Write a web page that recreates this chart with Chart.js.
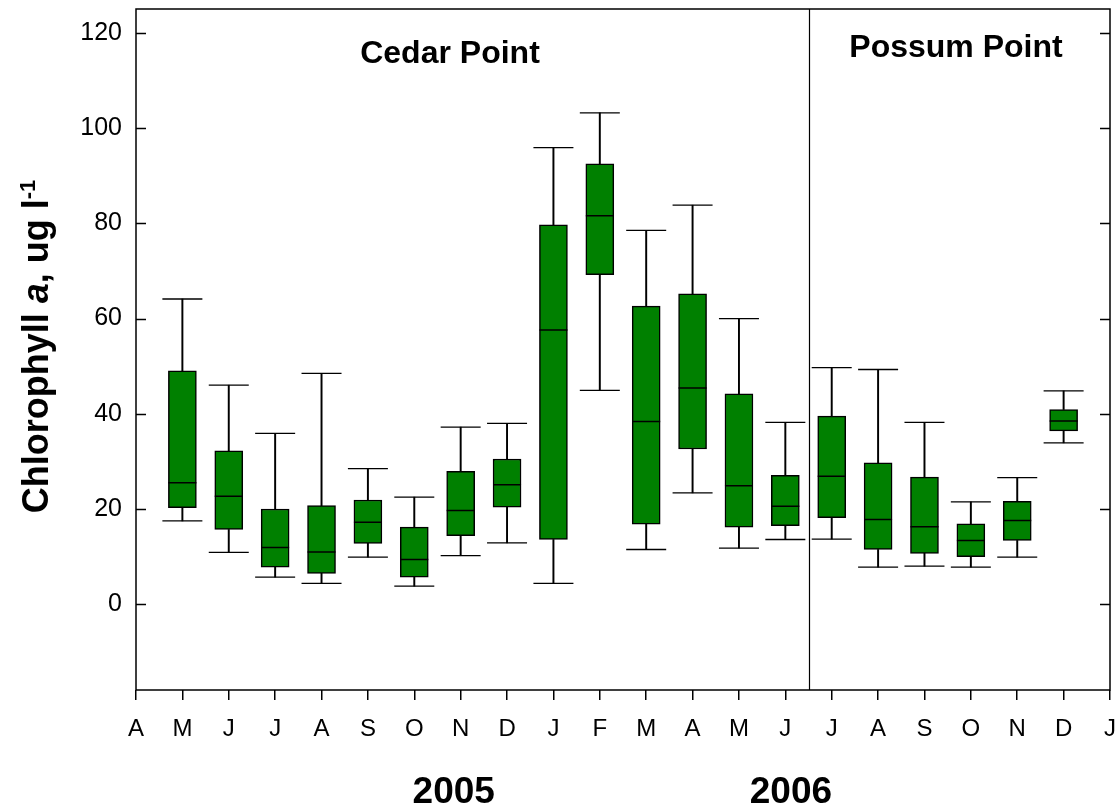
<!DOCTYPE html>
<html>
<head>
<meta charset="utf-8">
<script src="https://cdn.jsdelivr.net/npm/chart.js@4/dist/chart.umd.min.js"></script>
<style>
  body { margin: 0; background: #fff; }
  #wrap { width: 1118px; height: 811px; position: relative; }
</style>
</head>
<body>
<div id="wrap"><canvas id="chart"></canvas></div>
<script>
// month ticks, Apr 2005 .. Jul 2006
const months = ['A','M','J','J','A','S','O','N','D','J','F','M','A','M','J','J','A','S','O','N','D','J']
const yTicks = [0, 20, 40, 60, 80, 100, 120]

// box plot values (null = no sample that month)
const whiskerHigh = [null, 64.1, 46.0, 35.9, 48.5, 28.5, 22.5, 37.2, 38.0, 95.9, 103.2, 78.5, 83.8, 60.0, 38.2, 49.7, 49.3, 38.2, 21.5, 26.6, 44.8, null]
const q3          = [null, 49.0, 32.2, 20.0, 20.7, 21.9, 16.2, 27.9, 30.5, 79.7, 92.5, 62.6, 65.2, 44.2, 27.1, 39.5, 29.7, 26.7, 16.9, 21.6, 40.9, null]
const median      = [null, 25.5, 22.7, 11.9, 11.0, 17.2,  9.4, 19.7, 25.1, 57.6, 81.6, 38.4, 45.4, 24.9, 20.6, 26.9, 17.8, 16.3, 13.4, 17.6, 38.5, null]
const q1          = [null, 20.3, 15.7,  7.8,  6.5, 12.8,  5.7, 14.4, 20.4, 13.6, 69.2, 16.8, 32.6, 16.2, 16.5, 18.2, 11.5, 10.7, 10.0, 13.4, 36.4, null]
const whiskerLow  = [null, 17.5, 10.9,  5.7,  4.4,  9.9,  3.8, 10.2, 12.9,  4.4, 44.9, 11.5, 23.4, 11.8, 13.6, 13.7,  7.8,  8.0,  7.8,  9.9, 33.9, null]

const siteSplit = 14.5   // between Jun and Jul 2006
const sites = [{ name: 'Cedar Point', at: 6.77, y: 63 }, { name: 'Possum Point', at: 17.68, y: 57 }]
const years = [{ name: '2005', at: 6.85 }, { name: '2006', at: 14.12 }]

const FONT = "'Liberation Sans', Arial, Helvetica, sans-serif"

function range(a, b) {
    return months.map((m, i) => (a[i] == null ? null : [a[i], b[i]]))
}

const decor = {
    id: 'decor',
    afterDraw(chart) {
        const ctx = chart.ctx
        const area = chart.chartArea
        const x = chart.scales.x
        const y = chart.scales.y
        ctx.save()
        ctx.strokeStyle = '#000'
        ctx.lineWidth = 1.5

        // y ticks pointing inward on both sides
        yTicks.forEach(v => {
            const py = Math.round(y.getPixelForValue(v)) + 0.5
            ctx.beginPath()
            ctx.moveTo(area.left, py); ctx.lineTo(area.left + 10, py)
            ctx.moveTo(area.right, py); ctx.lineTo(area.right - 10, py)
            ctx.stroke()
        })

        // separator between the two sites
        const sx = Math.round(x.getPixelForValue(siteSplit)) + 0.5
        ctx.lineWidth = 1.2
        ctx.beginPath()
        ctx.moveTo(sx, area.top); ctx.lineTo(sx, area.bottom)
        ctx.stroke()

        // frame
        ctx.lineWidth = 1.5
        ctx.strokeRect(area.left, area.top, area.right - area.left, area.bottom - area.top)

        ctx.fillStyle = '#000'
        ctx.textAlign = 'center'
        ctx.textBaseline = 'alphabetic'
        ctx.font = 'bold 32px ' + FONT
        sites.forEach(s => ctx.fillText(s.name, x.getPixelForValue(s.at), s.y))

        ctx.font = 'bold 37px ' + FONT
        years.forEach(s => ctx.fillText(s.name, x.getPixelForValue(s.at), 803))

        // rotated y-axis title with italic "a" and superscript
        const parts = [
            { t: 'Chlorophyll ', f: 'bold 36px ' + FONT, dy: 0 },
            { t: 'a', f: 'italic bold 36px ' + FONT, dy: 0 },
            { t: ', ug l', f: 'bold 36px ' + FONT, dy: 0 },
            { t: '-1', f: 'bold 22px ' + FONT, dy: -13 }
        ]
        let total = 0
        parts.forEach(p => { ctx.font = p.f; p.w = ctx.measureText(p.t).width; total += p.w })
        ctx.translate(48, (area.top + area.bottom) / 2 - 3)
        ctx.rotate(-Math.PI / 2)
        ctx.textAlign = 'left'
        let cx = -total / 2
        parts.forEach(p => {
            ctx.font = p.f
            ctx.fillText(p.t, cx, p.dy)
            cx += p.w
        })
        ctx.restore()
    }
}

const ctx = document.getElementById('chart').getContext('2d')

const myChart = new Chart(ctx, {
    type: 'bar',
    data: {
        labels: months,
        datasets: [
            {
                label: 'box',
                data: range(q1, q3),
                backgroundColor: '#008000',
                borderColor: '#000',
                borderWidth: 1.5,
                borderSkipped: false,
                barThickness: 28,
                grouped: false,
                order: 2
            },
            {
                label: 'lower whisker',
                data: range(whiskerLow, q1),
                backgroundColor: '#000',
                barThickness: 1.3,
                grouped: false,
                order: 3
            },
            {
                label: 'upper whisker',
                data: range(q3, whiskerHigh),
                backgroundColor: '#000',
                barThickness: 1.3,
                grouped: false,
                order: 3
            },
            {
                type: 'line',
                label: 'median',
                data: median,
                showLine: false,
                pointStyle: 'line',
                pointRadius: 14,
                borderColor: '#000',
                pointBorderWidth: 1.5,
                order: 0
            },
            {
                type: 'line',
                label: 'max',
                data: whiskerHigh,
                showLine: false,
                pointStyle: 'line',
                pointRadius: 20,
                borderColor: '#000',
                pointBorderWidth: 1.3,
                order: 1
            },
            {
                type: 'line',
                label: 'min',
                data: whiskerLow,
                showLine: false,
                pointStyle: 'line',
                pointRadius: 20,
                borderColor: '#000',
                pointBorderWidth: 1.3,
                order: 1
            }
        ]
    },
    options: {
        responsive: true,
        maintainAspectRatio: false,
        animation: false,
        events: [],
        layout: { autoPadding: false, padding: { top: 9, right: 8, left: 0, bottom: 0 } },
        plugins: {
            legend: { display: false },
            tooltip: { enabled: false }
        },
        scales: {
            x: {
                type: 'category',
                offset: false,
                grid: {
                    offset: false,
                    drawOnChartArea: false,
                    tickLength: 10,
                    color: '#000',
                    lineWidth: 1.5
                },
                border: { display: false },
                ticks: {
                    autoSkip: false,
                    maxRotation: 0,
                    padding: 15,
                    color: '#000',
                    font: { family: FONT, size: 24 }
                },
                afterFit: s => { s.height = 121; s.paddingLeft = 0; s.paddingRight = 0 }
            },
            y: {
                min: -18,
                max: 125,
                grid: { display: false, drawTicks: false },
                border: { display: false },
                ticks: {
                    padding: 14,
                    color: '#000',
                    font: { family: FONT, size: 25 }
                },
                afterBuildTicks: s => { s.ticks = yTicks.map(v => ({ value: v })) },
                afterFit: s => { s.width = 136; s.paddingTop = 0; s.paddingBottom = 0 }
            }
        }
    },
    plugins: [decor]
})
</script>
</body>
</html>
